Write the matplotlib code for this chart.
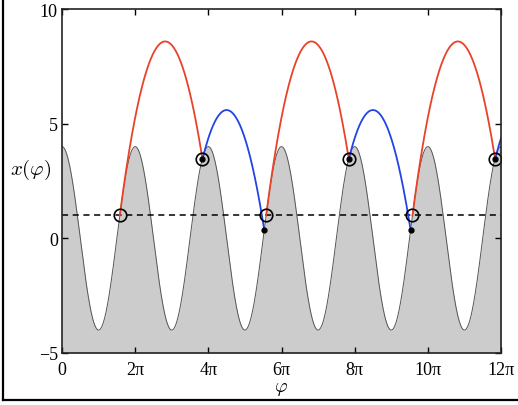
import numpy as np
import matplotlib
matplotlib.use("Agg")
import matplotlib.pyplot as plt
from matplotlib.lines import Line2D

# table: x_T = amp * cos(phi), phases in units of pi
table_amp = 4.0
level = 1.0           # dashed line
g = 1.0               # gravity in the reduced units

# bounce events (phase in units of pi, height)
red_phi0 = [1.58, 5.58, 9.58]
red_x0 = [1.0, 1.0, 1.0]
red_phi1 = [3.84, 7.84, 11.84]
red_x1 = [3.45, 3.45, 3.45]

blue_phi0 = [3.84, 7.84, 11.84]
blue_x0 = [3.45, 3.45, 3.45]
blue_phi1 = [5.53, 9.53, 13.53]
blue_x1 = [0.35, 0.35, 0.35]

xtick_vals = [0, 2, 4, 6, 8, 10, 12]
xtick_labels = ["0", "2π", "4π", "6π", "8π", "10π", "12π"]
ytick_vals = [-5, 0, 5, 10]

RED = "#e8432a"
BLUE = "#2243e6"

plt.rcParams["font.family"] = ["Liberation Serif", "DejaVu Serif"]
plt.rcParams["mathtext.fontset"] = "cm"


def arc(p0, x0, p1, x1):
    # ballistic flight between two points (phases given in units of pi)
    a, b = p0 * np.pi, p1 * np.pi
    t = np.linspace(0, b - a, 300)
    v = (x1 - x0 + 0.5 * g * (b - a) ** 2) / (b - a)
    return (a + t) / np.pi, x0 + v * t - 0.5 * g * t ** 2


fig = plt.figure(figsize=(5.18, 4.06), dpi=100)
ax = fig.add_axes([62 / 518, 1 - 354 / 406, 439 / 518, 344 / 406])

phi = np.linspace(0, 12, 2000)
table = table_amp * np.cos(phi * np.pi)
ax.fill_between(phi, -5, table, color="#cccccc", lw=0)
ax.plot(phi, table, color="#555555", lw=0.7)

ax.axhline(level, color="black", ls=(0, (4, 3)), lw=1.1)

for p0, x0, p1, x1 in zip(red_phi0, red_x0, red_phi1, red_x1):
    px, py = arc(p0, x0, p1, x1)
    ax.plot(px, py, color=RED, lw=1.3)
for p0, x0, p1, x1 in zip(blue_phi0, blue_x0, blue_phi1, blue_x1):
    px, py = arc(p0, x0, p1, x1)
    ax.plot(px, py, color=BLUE, lw=1.3, clip_on=True)

# markers
ax.plot(red_phi0, red_x0, "o", ms=9, mfc="none", mec="black", mew=1.2)
ax.plot(red_phi1, red_x1, "o", ms=9, mfc="none", mec="black", mew=1.2)
ax.plot(red_phi1, red_x1, "o", ms=3.5, color="black")
ax.plot(blue_phi1[:2], blue_x1[:2], "o", ms=3.5, color="black")

ax.set_xlim(0, 12)
ax.set_ylim(-5, 10)
ax.set_xticks(xtick_vals)
ax.set_xticklabels(xtick_labels)
ax.set_yticks(ytick_vals)
ax.tick_params(direction="in", top=True, right=True, length=4, width=1,
               labelsize=13)
ax.tick_params(axis="x", pad=6)
ax.tick_params(axis="y", pad=3)
for s in ax.spines.values():
    s.set_linewidth(1.2)
    s.set_color("#222222")

ax.set_xlabel(r"$\varphi$", fontsize=14, labelpad=1)
ax.set_ylabel(r"$x(\varphi)$", fontsize=15, rotation=0, ha="center", va="center")
ax.yaxis.set_label_coords(-0.07, 0.535)

# outer frame of the screenshot
fig.add_artist(Line2D([3 / 518, 3 / 518], [1 - 401 / 406, 1], color="black",
                      lw=1.6, transform=fig.transFigure))
fig.add_artist(Line2D([3 / 518, 1], [1 - 401 / 406, 1 - 401 / 406], color="black",
                      lw=1.6, transform=fig.transFigure))

fig.savefig("out.png", dpi=100)
